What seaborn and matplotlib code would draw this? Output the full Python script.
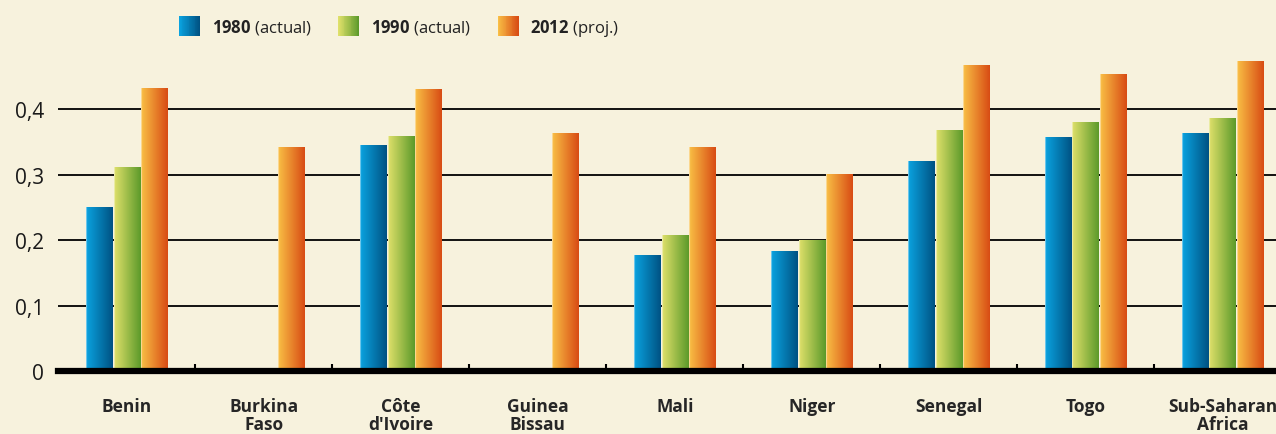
import numpy as np
import pandas as pd
import matplotlib
matplotlib.use("Agg")
import matplotlib.pyplot as plt
import seaborn as sns
from matplotlib.patches import Rectangle
from matplotlib.legend_handler import HandlerBase
from matplotlib.colors import to_rgb

# ---------------- data ----------------
countries = ["Benin", "Burkina\nFaso", "Côte\nd'Ivoire", "Guinea\nBissau", "Mali",
             "Niger", "Senegal", "Togo", "Sub-Saharan\nAfrica"]
v1980 = [0.25, np.nan, 0.345, np.nan, 0.177, 0.182, 0.32, 0.356, 0.363]
v1990 = [0.31, np.nan, 0.358, np.nan, 0.207, 0.20, 0.367, 0.38, 0.386]
v2012 = [0.432, 0.342, 0.43, 0.362, 0.342, 0.30, 0.467, 0.452, 0.472]
series = ["1980", "1990", "2012"]
series_note = ["(actual)", "(actual)", "(proj.)"]
yticks = [0, 0.1, 0.2, 0.3, 0.4]
ytick_labels = ["0", "0,1", "0,2", "0,3", "0,4"]

grads = {
    "1980": ("#0aa3e0", "#005283"),
    "1990": ("#dfe06a", "#5c9a2a"),
    "2012": ("#f9bf45", "#d84c14"),
}

df = pd.DataFrame({
    "country": countries * 3,
    "year": sum([[s] * len(countries) for s in series], []),
    "value": v1980 + v1990 + v2012,
})

BG = "#f7f2dd"
sns.set_theme(style="white")
plt.rcParams["font.family"] = ["Open Sans", "DejaVu Sans"]
plt.rcParams["mathtext.fontset"] = "custom"
plt.rcParams["mathtext.bf"] = "Open Sans:bold"
plt.rcParams["mathtext.rm"] = "Open Sans"

fig = plt.figure(figsize=(12.76, 4.35), dpi=100, facecolor=BG)
ax = fig.add_axes([58 / 1276, 63 / 435, 1 - 58 / 1276, 372 / 435])
ax.set_facecolor(BG)

sns.barplot(data=df, x="country", y="value", hue="year", hue_order=series,
            order=countries, width=0.6, palette=[grads[s][1] for s in series],
            legend=False, ax=ax, linewidth=0, saturation=1)


def gradient(c0, c1, n=64):
    a = np.array(to_rgb(c0))
    b = np.array(to_rgb(c1))
    t = np.linspace(0, 1, n)[:, None]
    g = a + t * (b - a)
    # light highlight at left edge
    g[:2] = g[:2] * 0.5 + 0.5
    return g[None, :, :]


for cont, s in zip(ax.containers, series):
    img = gradient(*grads[s])
    for p in cont.patches:
        h = p.get_height()
        if not np.isfinite(h) or h == 0:
            continue
        x0 = p.get_x()
        w = p.get_width()
        p.set_alpha(0)
        ax.imshow(img, extent=[x0 + 0.004, x0 + w - 0.004, 0, h], aspect="auto",
                  zorder=2, interpolation="bilinear")

ax.set_xlim(-0.504, 8.39)
ax.set_ylim(0, 0.568)

# grid
ax.set_yticks(yticks)
ax.set_yticklabels(ytick_labels, fontsize=15, color="#1a1a1a")
ax.yaxis.grid(True, color="black", linewidth=1.3)
ax.set_axisbelow(True)
ax.tick_params(axis="y", length=0, pad=10)

for sp in ["left", "right", "top"]:
    ax.spines[sp].set_visible(False)
ax.spines["bottom"].set_linewidth(4.5)
ax.spines["bottom"].set_color("black")
ax.spines["bottom"].set_zorder(5)

ax.set_xticks(range(len(countries)))
ax.set_xticklabels(countries, fontsize=12.5, fontweight="bold", linespacing=1.0)
ax.set_xticks([i + 0.5 for i in range(len(countries) - 1)], minor=True)
ax.tick_params(axis="x", which="major", length=0, pad=19)
ax.tick_params(axis="x", which="minor", direction="in", length=5, width=1.5,
               color="black", bottom=True)
ax.set_xlabel("")
ax.set_ylabel("")


# legend with gradient handles
class GradHandler(HandlerBase):
    def __init__(self, c0, c1):
        super().__init__()
        self.c0, self.c1 = c0, c1

    def create_artists(self, legend, orig_handle, xdescent, ydescent, width,
                       height, fontsize, trans):
        n = 24
        a = np.array(to_rgb(self.c0))
        b = np.array(to_rgb(self.c1))
        arts = []
        for k in range(n):
            t = k / (n - 1)
            r = Rectangle((-xdescent + k * width / n, -ydescent), width / n * 1.05,
                          height, facecolor=a + t * (b - a), linewidth=0,
                          transform=trans)
            arts.append(r)
        return arts


handles = [Rectangle((0, 0), 1, 1) for _ in series]
hmap = {h: GradHandler(*grads[s]) for h, s in zip(handles, series)}
labels = [r"$\mathbf{" + s + r"}$ " + n for s, n in zip(series, series_note)]
leg = fig.legend(handles, labels, handler_map=hmap, loc="upper left",
                 bbox_to_anchor=(179 / 1276, 1 - 17 / 435),
                 bbox_transform=fig.transFigure, ncol=3, frameon=False,
                 fontsize=12, handlelength=1.25, handleheight=1.5,
                 handletextpad=0.7, columnspacing=1.6, borderpad=0,
                 borderaxespad=0)
for t in leg.get_texts():
    t.set_color("#222222")

fig.savefig("out.png", dpi=100, facecolor=BG)
